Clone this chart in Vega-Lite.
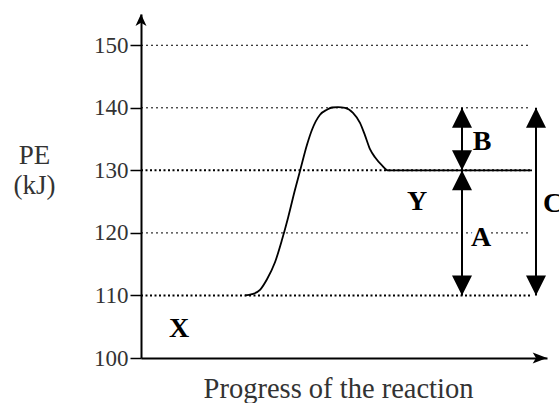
{
  "$schema": "https://vega.github.io/schema/vega-lite/v6.json",
  "width": 406,
  "height": 344,
  "autosize": {"type": "none"},
  "padding": {"left": 141, "top": 14, "right": 12, "bottom": 45},
  "background": "white",
  "config": {"view": {"stroke": null}},
  "datasets": {
    "curve": [
      {"progress": 104, "pe": 110},
      {"progress": 111, "pe": 110.2},
      {"progress": 119, "pe": 110.9},
      {"progress": 126, "pe": 112.6},
      {"progress": 134, "pe": 115.3},
      {"progress": 141, "pe": 118.9},
      {"progress": 147, "pe": 122.4},
      {"progress": 154, "pe": 126.9},
      {"progress": 159, "pe": 129.9},
      {"progress": 166, "pe": 134.1},
      {"progress": 171, "pe": 136.5},
      {"progress": 179, "pe": 138.9},
      {"progress": 186, "pe": 139.7},
      {"progress": 191, "pe": 140.05},
      {"progress": 197, "pe": 140.1},
      {"progress": 204, "pe": 140},
      {"progress": 212, "pe": 139.2},
      {"progress": 219, "pe": 137.6},
      {"progress": 224, "pe": 135.6},
      {"progress": 229, "pe": 133.4},
      {"progress": 234, "pe": 132.1},
      {"progress": 241, "pe": 130.8},
      {"progress": 247, "pe": 130},
      {"progress": 391, "pe": 130}
    ],
    "labels": [
      {"label": "X", "progress": 38, "pe": 103.4},
      {"label": "Y", "progress": 276, "pe": 123.7},
      {"label": "A", "progress": 340, "pe": 117.9},
      {"label": "B", "progress": 341, "pe": 133.3},
      {"label": "C", "progress": 412, "pe": 123.4}
    ]
  },
  "layer": [
    {
      "data": {"values": [{"level": 120, "start": 0, "end": 389}, {"level": 140, "start": 0, "end": 389}, {"level": 150, "start": 0, "end": 389}]},
      "mark": {"type": "rule", "color": "black", "strokeWidth": 1, "strokeDash": [2, 3]},
      "encoding": {
        "y": {
          "field": "level", "type": "quantitative",
          "scale": {"domain": [100, 155], "nice": false, "zero": false},
          "axis": {
            "values": [100, 110, 120, 130, 140, 150],
            "grid": false,
            "domainColor": "black", "domainWidth": 2,
            "tickColor": "black", "tickWidth": 1.5, "tickSize": 11,
            "labelFont": "Liberation Serif", "labelFontSize": 23, "labelColor": "#333", "labelPadding": 2, "labelFlush": false,
            "title": ["PE", "(kJ)"],
            "titleFont": "Liberation Serif", "titleFontSize": 27, "titleFontWeight": "normal", "titleColor": "#333",
            "titleAngle": 0, "titleAlign": "center", "titleBaseline": "alphabetic",
            "titleX": -107, "titleY": 149, "titleLineHeight": 30
          }
        },
        "x": {
          "field": "start", "type": "quantitative",
          "scale": {"domain": [0, 406], "nice": false, "zero": false},
          "axis": {
            "labels": false, "ticks": false, "grid": false,
            "domainColor": "black", "domainWidth": 2,
            "title": "Progress of the reaction",
            "titleFont": "Liberation Serif", "titleFontSize": 28.5, "titleFontWeight": "normal", "titleColor": "#333",
            "titleX": 197, "titleY": 39, "titleAlign": "center", "titleBaseline": "alphabetic"
          }
        },
        "x2": {"field": "end"}
      }
    },
    {
      "data": {"values": [{"level": 110, "start": 0, "end": 389}, {"level": 130, "start": 0, "end": 389}]},
      "mark": {"type": "rule", "color": "black", "strokeWidth": 2, "strokeDash": [2, 2.5]},
      "encoding": {
        "y": {"field": "level", "type": "quantitative"},
        "x": {"field": "start", "type": "quantitative"},
        "x2": {"field": "end"}
      }
    },
    {
      "data": {"name": "labels"},
      "mark": {"type": "text", "font": "Liberation Serif", "fontWeight": "bold", "fontSize": 28, "align": "center", "baseline": "alphabetic", "fill": "white", "stroke": "white", "strokeWidth": 10},
      "encoding": {
        "x": {"field": "progress", "type": "quantitative"},
        "y": {"field": "pe", "type": "quantitative"},
        "text": {"field": "label"}
      }
    },
    {
      "data": {"name": "curve"},
      "mark": {"type": "line", "color": "black", "strokeWidth": 1.8, "interpolate": "monotone"},
      "encoding": {
        "x": {"field": "progress", "type": "quantitative"},
        "y": {"field": "pe", "type": "quantitative"}
      }
    },
    {
      "data": {"values": [
        {"progress": 321, "pe": 110, "pe2": 130},
        {"progress": 321, "pe": 130, "pe2": 140},
        {"progress": 395, "pe": 110, "pe2": 140}
      ]},
      "mark": {"type": "rule", "color": "black", "strokeWidth": 2},
      "encoding": {
        "x": {"field": "progress", "type": "quantitative"},
        "y": {"field": "pe", "type": "quantitative"},
        "y2": {"field": "pe2"}
      }
    },
    {
      "data": {"values": [
        {"progress": 321, "pe": 130},
        {"progress": 321, "pe": 140},
        {"progress": 395, "pe": 140}
      ]},
      "mark": {"type": "point", "shape": "M0,0L-1,2L1,2Z", "size": 400, "filled": true, "fill": "black", "strokeWidth": 0, "opacity": 1},
      "encoding": {
        "x": {"field": "progress", "type": "quantitative"},
        "y": {"field": "pe", "type": "quantitative"}
      }
    },
    {
      "data": {"values": [
        {"progress": 321, "pe": 110},
        {"progress": 321, "pe": 130},
        {"progress": 395, "pe": 110}
      ]},
      "mark": {"type": "point", "shape": "M0,0L-1,-2L1,-2Z", "size": 400, "filled": true, "fill": "black", "strokeWidth": 0, "opacity": 1},
      "encoding": {
        "x": {"field": "progress", "type": "quantitative"},
        "y": {"field": "pe", "type": "quantitative"}
      }
    },
    {
      "data": {"values": [{"progress": 0, "pe": 155}]},
      "mark": {"type": "point", "shape": "M0,0L-1,2.2L0,1.6L1,2.2Z", "size": 121, "filled": true, "fill": "black", "strokeWidth": 0, "opacity": 1},
      "encoding": {
        "x": {"field": "progress", "type": "quantitative"},
        "y": {"field": "pe", "type": "quantitative"}
      }
    },
    {
      "data": {"values": [{"progress": 406, "pe": 100}]},
      "mark": {"type": "point", "shape": "M0,0L-2.6,-1L-2,0L-2.6,1Z", "size": 121, "filled": true, "fill": "black", "strokeWidth": 0, "opacity": 1},
      "encoding": {
        "x": {"field": "progress", "type": "quantitative"},
        "y": {"field": "pe", "type": "quantitative"}
      }
    },
    {
      "data": {"name": "labels"},
      "mark": {"type": "text", "font": "Liberation Serif", "fontWeight": "bold", "fontSize": 28, "align": "center", "baseline": "alphabetic", "color": "black"},
      "encoding": {
        "x": {"field": "progress", "type": "quantitative"},
        "y": {"field": "pe", "type": "quantitative"},
        "text": {"field": "label"}
      }
    }
  ]
}
